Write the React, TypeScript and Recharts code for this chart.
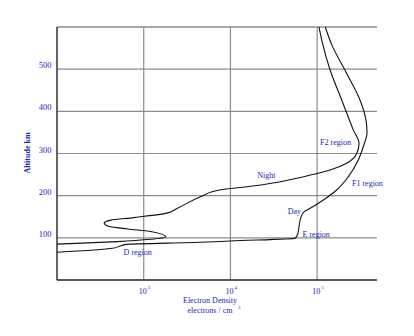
import React from "react";
import {
  ScatterChart,
  Scatter,
  XAxis,
  YAxis,
  CartesianGrid,
  ReferenceLine,
  ReferenceDot,
} from "recharts";

// night profile, read bottom to top (electrons / cm3, km)
const nightDensity = [
  100, 500, 1200, 1800, 1200, 650, 383, 350, 418, 767, 1790, 2440, 4520, 7700,
  15600, 37600, 90600, 141000, 219000, 286000, 304000, 261000, 192000, 141000,
  113000, 105000,
];
const nightAltitude = [
  85, 91, 96.5, 102, 115, 121, 128, 135, 142, 148, 158, 170, 197.5, 214, 221,
  233, 250.6, 261, 277, 300, 324, 356, 427, 498, 569, 600,
];

// day profile
const dayDensity = [
  100, 437, 560, 640, 4520, 10000, 55800, 60000, 62100, 65000, 71000, 83200,
  118000, 168000, 229000, 298000, 340000, 376000, 366000, 312000, 219000,
  148000, 124000,
];
const dayAltitude = [
  65.7, 75.2, 82, 84.5, 89.4, 92.5, 99, 110.7, 130, 148.7, 162, 170, 189.7,
  213.4, 245, 284.6, 316, 350, 379, 427, 490, 557, 600,
];

const densityTicks = [1000, 10000, 100000];
const altitudeTicks = [100, 200, 300, 400, 500];

const regionNames = ["D region", "E region", "Day", "F1 region", "Night", "F2 region"];
const regionDensity = [853, 97500, 54500, 380000, 25900, 163000];
const regionAltitude = [65.7, 108.4, 163.6, 229, 249, 327];

const BLUE = "#2424b8";
const GRID = "#8c8c8c";
const SERIF = "'Liberation Serif', 'DejaVu Serif', serif";

const toPoints = (d: number[], a: number[]) =>
  d.map((v, i) => ({ density: v, altitude: a[i] }));

const night = toPoints(nightDensity, nightAltitude);
const day = toPoints(dayDensity, dayAltitude);

const noDot = () => <g />;

function DensityTick(props: any) {
  const { x, y, payload } = props;
  const exp = Math.round(Math.log10(payload.value));
  return (
    <g transform={`translate(${x},${y})`} fontFamily={SERIF} fill={BLUE}>
      <text x={-1} y={13.5} textAnchor="middle" fontSize={8}>
        10
      </text>
      <text x={4} y={9} fontSize={5}>
        {exp}
      </text>
    </g>
  );
}

function AltitudeTick(props: any) {
  const { x, y, payload } = props;
  return (
    <text
      x={x - 5.5}
      y={y - 1}
      textAnchor="end"
      fontSize={8.5}
      fontFamily={SERIF}
      fill={BLUE}
    >
      {payload.value}
    </text>
  );
}

function XTitle(props: any) {
  const { viewBox } = props;
  const cx = viewBox.x + 153;
  const top = viewBox.y;
  return (
    <g fontFamily={SERIF} fill={BLUE} fontSize={8}>
      <text x={cx} y={top + 23} textAnchor="middle">
        Electron Density
      </text>
      <text x={cx} y={top + 33} textAnchor="middle">
        electrons / cm
      </text>
      <text x={cx + 28} y={top + 29} fontSize={5}>
        3
      </text>
    </g>
  );
}

function YTitle(props: any) {
  const { viewBox } = props;
  const x = 30;
  const y = viewBox.y + 126;
  return (
    <text
      x={x}
      y={y}
      transform={`rotate(-90, ${x}, ${y})`}
      textAnchor="middle"
      fontSize={8}
      fontWeight="bold"
      fontFamily={SERIF}
      fill={BLUE}
    >
      Altitude km
    </text>
  );
}

const regionLabel = (name: string) => (p: any) =>
  (
    <text
      x={p.cx}
      y={p.cy + 3}
      textAnchor="middle"
      fontSize={8}
      fontFamily={SERIF}
      fill={BLUE}
    >
      {name}
    </text>
  );

export default function App() {
  return (
    <div style={{ position: "absolute", left: 0, top: 0, background: "#fff" }}>
      <ScatterChart
        width={414}
        height={336}
        margin={{ top: 27, right: 37, left: 0, bottom: 0 }}
      >
        <CartesianGrid vertical={false} stroke={GRID} strokeWidth={1.2} />
        <XAxis
          type="number"
          dataKey="density"
          scale="log"
          domain={[100, 490000]}
          ticks={densityTicks}
          allowDataOverflow
          height={56}
          tickSize={0}
          tickMargin={0}
          tickLine={false}
          axisLine={{ stroke: "#333", strokeWidth: 1.5 }}
          tick={<DensityTick />}
          label={<XTitle />}
        />
        <YAxis
          type="number"
          dataKey="altitude"
          domain={[0, 600]}
          ticks={altitudeTicks}
          width={57}
          tickSize={0}
          tickMargin={0}
          tickLine={false}
          axisLine={{ stroke: "#333", strokeWidth: 1.5 }}
          tick={<AltitudeTick />}
          label={<YTitle />}
        />
        {densityTicks.map((t) => (
          <ReferenceLine key={t} x={t} stroke={GRID} strokeWidth={1.2} />
        ))}
        <ReferenceLine y={600} stroke={GRID} strokeWidth={1.2} />
        <Scatter
          data={night}
          line={{ stroke: "#111", strokeWidth: 1.1 }}
          lineType="joint"
          lineJointType="monotoneY"
          shape={noDot}
          isAnimationActive={false}
        />
        <Scatter
          data={day}
          line={{ stroke: "#111", strokeWidth: 1.1 }}
          lineType="joint"
          lineJointType="monotoneY"
          shape={noDot}
          isAnimationActive={false}
        />
        {regionNames.map((name, i) => (
          <ReferenceDot
            key={name}
            x={regionDensity[i]}
            y={regionAltitude[i]}
            r={1}
            ifOverflow="visible"
            shape={regionLabel(name)}
          />
        ))}
      </ScatterChart>
    </div>
  );
}
